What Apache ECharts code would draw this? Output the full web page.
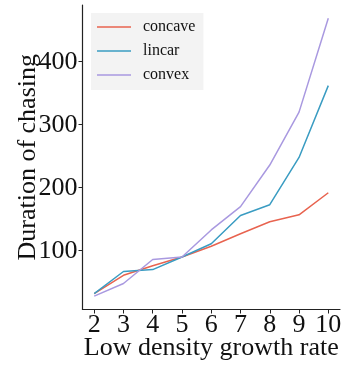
<!DOCTYPE html>
<html>
<head>
<meta charset="utf-8">
<script src="https://cdn.jsdelivr.net/npm/echarts@6/dist/echarts.min.js"></script>
<style>
html,body{margin:0;padding:0;background:#fff;}
#chart{width:343px;height:366px;}
</style>
</head>
<body>
<div id="chart"></div>
<script>
var growthRates = [2, 3, 4, 5, 6, 7, 8, 9, 10];
var concave = [32, 61, 76, 90, 107, 127, 146, 157, 192];
var linear = [32, 67, 70, 90, 111, 156, 173, 248, 362];
var convex = [28, 48, 86, 90, 133, 170, 236, 320, 469];
var xTicks = [2, 3, 4, 5, 6, 7, 8, 9, 10];
var yTicks = [100, 200, 300, 400];
var seriesNames = ['concave', 'lincar', 'convex'];
var seriesColors = ['#e8634f', '#3a9cc2', '#a999e0'];

function pairs(xs, ys) { return xs.map(function (x, i) { return [x, ys[i]]; }); }

var font = 'Liberation Serif, Times New Roman, serif';
var chart = echarts.init(document.getElementById('chart'));
var seriesData = [concave, linear, convex];
chart.setOption({
  animation: false,
  backgroundColor: '#fff',
  grid: { left: 82.5, right: 3, top: 5, bottom: 56.5, containLabel: false, outerBoundsMode: 'none' },
  legend: {
    left: 91, top: 13,
    orient: 'vertical',
    backgroundColor: '#f3f3f3',
    padding: [5, 8, 6, 6],
    icon: 'rect',
    itemWidth: 34, itemHeight: 1.6, itemGap: 6,
    textStyle: { fontFamily: font, fontSize: 16, color: '#111', padding: [0, 0, 0, 7], lineHeight: 18 },
    data: seriesNames.map(function (n, i) { return { name: n, itemStyle: { color: seriesColors[i] } }; })
  },
  xAxis: {
    type: 'value', min: 1.6, max: 10.4,
    name: 'Low density growth rate', nameLocation: 'middle', nameGap: 25.5, nameMoveOverlap: false,
    nameTextStyle: { fontFamily: font, fontSize: 26, color: '#111' },
    axisLine: { show: true, onZero: false, lineStyle: { color: '#222', width: 1.2 } },
    axisTick: { show: true, length: 4, customValues: xTicks, lineStyle: { color: '#222' } },
    axisLabel: { customValues: xTicks, fontFamily: font, fontSize: 26, color: '#111', margin: 3 },
    splitLine: { show: false }
  },
  yAxis: {
    type: 'value', min: 6.7, max: 490,
    name: 'Duration of chasing', nameLocation: 'middle', nameGap: 41, nameRotate: 90, nameMoveOverlap: false,
    nameTextStyle: { fontFamily: font, fontSize: 26, color: '#111' },
    axisLine: { show: true, onZero: false, lineStyle: { color: '#222', width: 1.2 } },
    axisTick: { show: true, length: 4, customValues: yTicks, lineStyle: { color: '#222' } },
    axisLabel: { customValues: yTicks, fontFamily: font, fontSize: 26, color: '#111', margin: 5 },
    splitLine: { show: false }
  },
  series: seriesNames.map(function (n, i) {
    return {
      name: n, type: 'line', symbol: 'none', showSymbol: false,
      data: pairs(growthRates, seriesData[i]),
      lineStyle: { color: seriesColors[i], width: 1.5 },
      itemStyle: { color: seriesColors[i] }
    };
  })
});
</script>
</body>
</html>
